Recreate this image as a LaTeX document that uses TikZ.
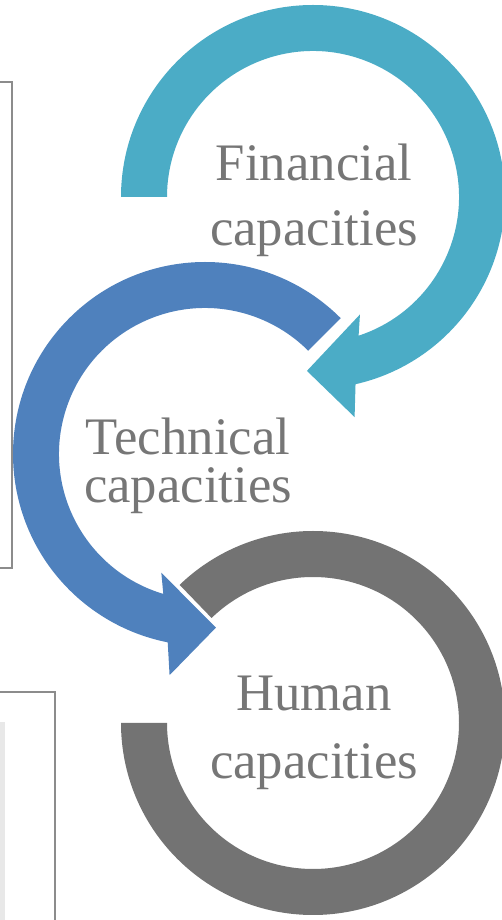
\documentclass[tikz,border=0pt]{standalone}
\usepackage{fontspec}
\setmainfont{Liberation Serif}
\definecolor{fincol}{RGB}{75,172,198}
\definecolor{teccol}{RGB}{79,129,189}
\definecolor{humcol}{RGB}{115,115,115}
\definecolor{lblgray}{RGB}{118,118,118}
\definecolor{framegray}{RGB}{140,140,140}
\definecolor{stripgray}{RGB}{232,232,232}

\begin{document}
\begin{tikzpicture}[x=0.02cm, y=0.02cm]
    \tikzset{
      lbl/.style={text=lblgray, align=center, inner sep=0pt},
      frame/.style={draw=framegray, line width=1.1pt},
    }
    \useasboundingbox (0,0) rectangle (501,920);
    % page boxes at the left
    \fill[stripgray] (0,0) rectangle (4.5,198);
    \draw[frame] (0,838) -- (12,838) -- (12,352) -- (0,352);
    \draw[frame] (0,228) -- (55,228) -- (55,0);
    % ring centres
    \coordinate (fin) at (313,723);
    \coordinate (tec) at (205,466);
    \coordinate (hum) at (313,197);
    % the three arrows
    \fill[humcol, shift={(hum)}] (180:192) arc[start angle=180, end angle=494, radius=192]
      -- (494:146) arc[start angle=494, end angle=180, radius=146] -- cycle;
    \fill[teccol, shift={(tec)}] (45:192) arc[start angle=45, end angle=258.8, radius=192]
      -- (260.9:224) -- (273.6:174) -- (249.8:126.5)
      -- (253.4:146) arc[start angle=253.4, end angle=45, radius=146] -- cycle;
    \fill[fincol, shift={(fin)}] (180:192) arc[start angle=180, end angle=-77.2, radius=192]
      -- (-79.3:224) -- (-92:174) -- (-68.2:126.5)
      -- (-71.8:146) arc[start angle=-71.8, end angle=180, radius=146] -- cycle;
    % labels
    \node[lbl, font=\fontsize{30}{36.9}\selectfont] (finlbl) at (314,720) {Financial\\capacities};
    \node[lbl, font=\fontsize{30}{27.2}\selectfont] (teclbl) at (188,454) {Technical\\capacities};
    \node[lbl, font=\fontsize{30}{38.5}\selectfont] (humlbl) at (314,187) {Human\\capacities};
\end{tikzpicture}
\end{document}
